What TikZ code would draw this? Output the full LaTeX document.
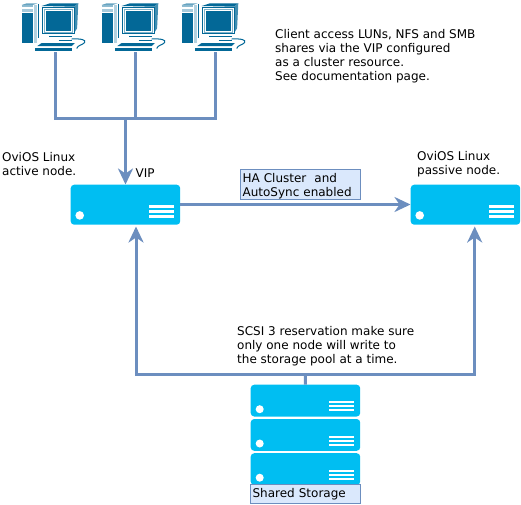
\documentclass[tikz,border=0pt]{standalone}
\usepackage{fontspec}
\setmainfont{DejaVu Sans}
\usetikzlibrary{arrows.meta}
\definecolor{lnk}{HTML}{6C8EBF}
\definecolor{boxf}{HTML}{DAE8FC}
\definecolor{srv}{HTML}{00BEF2}
\definecolor{pc}{HTML}{036897}
\tikzset{
  txt/.style={inner sep=0pt,align=left,anchor=north west,font=\fontsize{12}{14}\selectfont,text=black},
  lbl/.style={draw=lnk,fill=boxf,line width=.8pt,inner xsep=2pt,inner ysep=0pt,align=left,anchor=north west,font=\fontsize{12}{14}\selectfont},
  srvbox/.style={fill=srv,draw=none,rounded corners=3.5pt,inner sep=0pt,minimum width=109.5pt},
  conn/.style={draw=lnk,line width=3pt},
  arr/.style={conn,-{Stealth[length=16pt,width=15pt,inset=5pt]}},
  anchorpt/.style={inner sep=0pt,minimum size=0pt},
  serverdeco/.pic={
    \fill[white] (9.2,-9.5) circle (4.3);
    \fill[white] (78.5,-19.5) rectangle (103,-17.2);
    \fill[white] (78.5,-14.5) rectangle (103,-12.2);
    \fill[white] (78.5,-9.5) rectangle (103,-7.2);
  },
  storagedeco/.pic={
    \fill[white] (9.2,-7.5) circle (4);
    \fill[white] (78.5,-15.3) rectangle (103,-13.3);
    \fill[white] (78.5,-11.3) rectangle (103,-9.3);
    \fill[white] (78.5,-7.3) rectangle (103,-5.3);
  },
  computer/.pic={
    % tower
    \fill[pc] (0,10.3) rectangle (11,40.3);
    \fill[pc!45] (0,2) rectangle (11,4.3);
    \fill[pc!35] (0,6) rectangle (11,9);
    \fill[pc!60] (0,2) -- (5,.3) -- (16,.3) -- (11,2) -- cycle;
    \fill[pc!30] (11.8,2) rectangle (15.5,40);
    \draw[pc,line width=.6pt] (17,1) -- (17,35);
    % monitor
    \fill[pc] (20,3) -- (28.3,.3) -- (56.6,.3) -- (52.3,3.7) -- cycle;
    \fill[pc!75] (52.3,3.7) -- (56.6,.3) -- (55.4,25.3) -- (52.3,30.3) -- cycle;
    \draw[pc,line width=.9pt] (20.6,4.3) rectangle (52.3,30.3);
    \fill[pc] (24,7.7) rectangle (49.3,27.7);
    \draw[pc!50,line width=.7pt] (22.6,6.2) rectangle (50.5,29);
    % base and keyboard
    \draw[pc,line width=.8pt] (27.5,33) -- (50,33);
    \draw[pc,line width=1pt] (37,37.3) -- (50,37.3);
    \fill[pc] (20,40) -- (53.3,40) -- (50,43) -- (15.6,43) -- cycle;
    \fill[pc] (13.3,45.3) rectangle (50,47.7);
    \draw[pc,line width=1pt] (50,36) .. controls (58,35.5) and (65,36.5) .. (63,39.5) .. controls (61,42) and (56,42) .. (55,45.5);
  }
}
\begin{document}
\begin{tikzpicture}[x=1pt,y=-1pt]
\useasboundingbox (0,0) rectangle (521,504);
% computers
\pic at (21.7,3) {computer};
\pic at (101.7,3) {computer};
\pic at (181.7,3) {computer};
\node[anchorpt] (c1) at (55.5,52) {};
\node[anchorpt] (c2) at (135.5,52) {};
\node[anchorpt] (c3) at (215.5,52) {};
\coordinate (j) at (125.5,118.2);
% servers
\node[srvbox,minimum height=40pt,anchor=north west] (active) at (70.5,184.5) {};
\node[srvbox,minimum height=40pt,anchor=north west] (passive) at (410.5,184.5) {};
\node[srvbox,minimum height=31.8pt,anchor=north west] (s1) at (250.5,384.5) {};
\node[srvbox,minimum height=31.8pt,anchor=north west] (s2) at (250.5,418.8) {};
\node[srvbox,minimum height=31.8pt,anchor=north west] (s3) at (250.5,453) {};
\pic at (active.south west) {serverdeco};
\pic at (passive.south west) {serverdeco};
\pic at (s1.south west) {storagedeco};
\pic at (s2.south west) {storagedeco};
\pic at (s3.south west) {storagedeco};
% connectors
\draw[conn] (c1) |- (j);
\draw[conn] (c2) |- (j);
\draw[conn] (c3) |- (j);
\draw[arr] (j) -- (active.north -| j);
\draw[arr] (active.east |- 0,204.5) -- (passive.west |- 0,204.5);
\coordinate (st) at (305.5,374.6);
\draw[conn] (s1.north) -- (st);
\draw[arr] (st) -| (136,226.5);
\draw[arr] (st) -| (474.7,226.5);
% labels
\node[txt] (t1) at (275,29) {Client access LUNs, NFS and SMB\\shares via the VIP configured\\as a cluster resource.\\See documentation page.};
\node[txt] (t2) at (2,152.5) {OviOS Linux\\active node.};
\node[txt] (t3) at (135.5,168.5) {VIP};
\node[txt] (t4) at (417,151.5) {OviOS Linux\\passive node.};
\node[txt] (t5) at (237,326.5) {SCSI 3 reservation make sure\\only one node will write to\\the storage pool at a time.};
\node[lbl,text width=115.5pt,minimum height=30pt] (ha) at (240.2,169.3) {\rule{0pt}{12pt}HA Cluster~ and\\AutoSync enabled};
\node[lbl,text width=105.5pt,minimum height=19.5pt] (ss) at (250.2,483.5) {\rule{0pt}{11pt}Shared Storage};
\end{tikzpicture}
\end{document}
